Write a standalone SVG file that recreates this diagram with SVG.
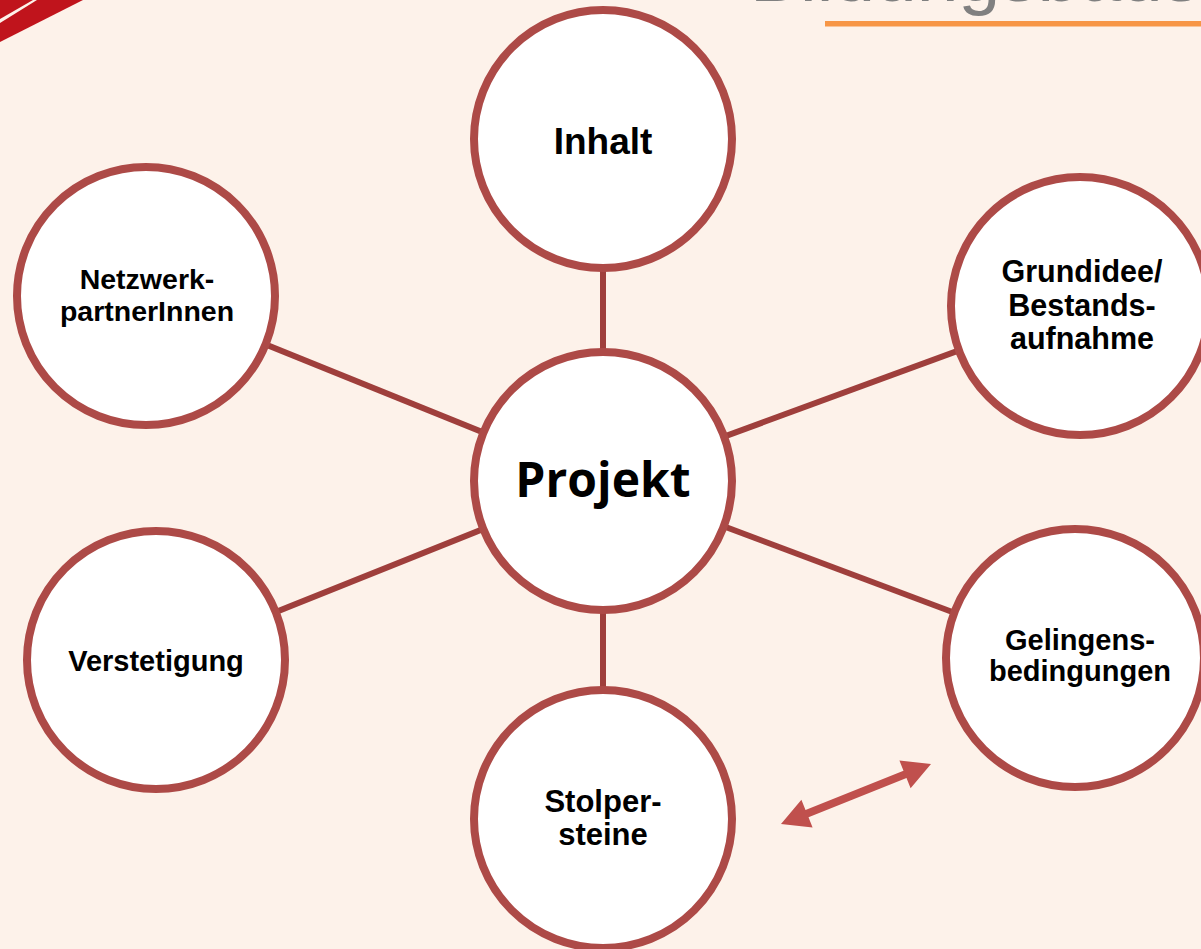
<svg xmlns="http://www.w3.org/2000/svg" width="1201" height="949" viewBox="0 0 1201 949">
<style>
.node circle{fill:#ffffff;stroke:#ad4a47;stroke-width:8}
.lbl{font-family:"Liberation Sans",Arial,sans-serif;font-weight:bold;fill:#000;text-anchor:middle}
.conn line{stroke:#9f3f3c;stroke-width:6}
</style>
<rect width="1201" height="949" fill="#fdf2ea"/>
<g id="corner">
<polygon points="0,0 33,0 0,19" fill="#c0141c"/>
<polygon points="37,0 83,0 0,42 0,23" fill="#c0141c"/>
</g>
<g id="title">
<text x="750" y="1" font-family="Liberation Sans,Arial,sans-serif" font-size="75" fill="#808080">Bildungsbausteine</text>
<rect x="825" y="21" width="376" height="5.5" fill="#f79646"/>
</g>
<g id="connectors" class="conn">
<line x1="603" y1="139" x2="603" y2="481"/>
<line x1="603" y1="481" x2="603" y2="819"/>
<line x1="146" y1="296" x2="603" y2="481"/>
<line x1="1080" y1="306" x2="603" y2="481"/>
<line x1="156" y1="660" x2="603" y2="481"/>
<line x1="1075" y1="658" x2="603" y2="481"/>
</g>
<g id="n-inhalt" class="node">
<circle cx="603" cy="139" r="129"/>
<text class="lbl" x="603" y="154" font-size="37">Inhalt</text>
</g>
<g id="n-netzwerk" class="node">
<circle cx="146" cy="296" r="129"/>
<text class="lbl" x="147" y="289" font-size="28.5">Netzwerk-</text>
<text class="lbl" x="147" y="321" font-size="28.5">partnerInnen</text>
</g>
<g id="n-grundidee" class="node">
<circle cx="1080" cy="306" r="129"/>
<text class="lbl" x="1082" y="282" font-size="30.5">Grundidee/</text>
<text class="lbl" x="1082" y="316" font-size="30.5">Bestands-</text>
<text class="lbl" x="1082" y="349" font-size="30.5">aufnahme</text>
</g>
<g id="n-projekt" class="node">
<circle cx="603" cy="481" r="129"/>
<text x="603" y="497" font-family="'Open Sans','Noto Sans',sans-serif" font-weight="bold" font-size="48" text-anchor="middle" fill="#000">Projekt</text>
</g>
<g id="n-verstetigung" class="node">
<circle cx="156" cy="660" r="129"/>
<text class="lbl" x="156" y="671" font-size="29">Verstetigung</text>
</g>
<g id="n-gelingens" class="node">
<circle cx="1075" cy="658" r="129"/>
<text class="lbl" x="1080" y="650" font-size="29">Gelingens-</text>
<text class="lbl" x="1080" y="681" font-size="29">bedingungen</text>
</g>
<g id="n-stolper" class="node">
<circle cx="603" cy="819" r="129"/>
<text class="lbl" x="603" y="812" font-size="31">Stolper-</text>
<text class="lbl" x="603" y="845" font-size="31">steine</text>
</g>
<g id="double-arrow">
<polygon points="781,824 812.6,827.5 808.5,817.3 906.5,778.1 910.6,788.3 931,764 899.4,760.5 903.5,770.7 805.5,809.9 801.4,799.7" fill="#c0504d"/>
</g>
</svg>
